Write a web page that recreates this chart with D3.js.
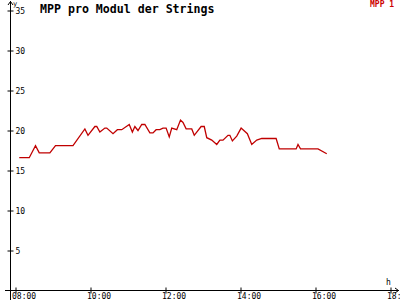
<!DOCTYPE html>
<html>
<head>
<meta charset="utf-8">
<script src="https://cdn.jsdelivr.net/npm/d3@7"></script>
<style>
  body { margin: 0; background: #fff; }
  svg { display: block; font-family: "DejaVu Sans Mono", monospace; }
</style>
</head>
<body>
<svg width="400" height="300"></svg>
<script>
const times = ['08:06','08:22','08:32','08:38','08:55','09:04','09:32','09:51','09:56','10:07',
  '10:10','10:15','10:23','10:26','10:36','10:43','10:50','11:02','11:07','11:11',
  '11:16','11:22','11:27','11:35','11:40','11:45','11:51','11:56','12:01','12:06',
  '12:10','12:18','12:24','12:28','12:33','12:42','12:46','12:57','13:02','13:06',
  '13:14','13:22','13:27','13:32','13:40','13:43','13:47','13:54','14:01','14:11',
  '14:18','14:26','14:34','14:57','15:02','15:29','15:32','15:36','16:04','16:18'];
const mpp1 = [16.6,16.6,18.1,17.2,17.2,18.1,18.1,20.2,19.4,20.5,
  20.5,19.8,20.3,20.3,19.6,20.1,20.1,20.75,19.8,20.5,
  20.0,20.75,20.75,19.7,19.7,20.1,20.1,20.3,20.3,19.2,
  20.3,20.1,21.3,21.0,20.2,20.2,19.4,20.5,20.5,19.1,
  18.8,18.25,18.8,18.8,19.4,19.4,18.7,19.3,20.3,19.6,
  18.25,18.8,19.0,19.0,17.7,17.7,18.25,17.7,17.7,17.1];
const xTicks = ['08:00','10:00','12:00','14:00','16:00','18:00'];
const yTicks = [5,10,15,20,25,30,35];

const svg = d3.select('svg');
const parse = d3.timeParse('%H:%M');
const fmt = d3.timeFormat('%H:%M');

const x = d3.scaleTime()
  .domain([parse('08:00'), parse('18:00')])
  .range([15.5, 390.5]);
const y = d3.scaleLinear()
  .domain([0, 35])
  .range([290.5, 10.5]);

const red = '#c00000';

// y axis
const yAxisG = svg.append('g')
  .attr('transform', 'translate(10.5,0)')
  .call(d3.axisRight(y).tickValues(yTicks).tickSize(3).tickPadding(2));
yAxisG.select('.domain').remove();
yAxisG.selectAll('.tick line').attr('x1', -3).attr('stroke', '#000');
yAxisG.selectAll('.tick text').attr('font-size', 8).attr('font-family', 'DejaVu Sans Mono').attr('fill', '#000');
svg.append('line').attr('x1', 10.5).attr('x2', 10.5).attr('y1', 1).attr('y2', 300).attr('stroke', '#000');
svg.append('path').attr('d', 'M8,5L10.5,1.5L13,5').attr('fill', 'none').attr('stroke', '#000');
svg.append('text').attr('x', 13).attr('y', 6).attr('font-size', 7).text('y');

// x axis
const xAxisG = svg.append('g')
  .attr('transform', 'translate(0,290.5)')
  .call(d3.axisBottom(x).tickValues(xTicks.map(parse)).tickFormat(fmt).tickSize(3).tickPadding(0));
xAxisG.select('.domain').remove();
xAxisG.selectAll('.tick line').attr('y1', -3).attr('stroke', '#000');
xAxisG.selectAll('.tick text')
  .attr('font-size', 8).attr('font-family', 'DejaVu Sans Mono').attr('fill', '#000')
  .attr('text-anchor', 'start').attr('dx', -4).attr('y', 3);
svg.append('line').attr('x1', 5).attr('x2', 399).attr('y1', 290.5).attr('y2', 290.5).attr('stroke', '#000');
svg.append('path').attr('d', 'M395,288L398.5,290.5L395,293').attr('fill', 'none').attr('stroke', '#000');
svg.append('text').attr('x', 386).attr('y', 285).attr('font-size', 8).text('h');

// title and legend
svg.append('text').attr('x', 40).attr('y', 13)
  .attr('font-size', 11.6).attr('font-weight', 'bold').text('MPP pro Modul der Strings');
svg.append('text').attr('x', 370).attr('y', 7)
  .attr('font-size', 8).attr('font-weight', 'bold').attr('fill', '#cc0000').text('MPP 1');

// line
const data = times.map((t, i) => ({ t: parse(t), v: mpp1[i] }));
svg.append('path')
  .datum(data)
  .attr('fill', 'none')
  .attr('stroke', red)
  .attr('stroke-width', 1.3)
  .attr('d', d3.line().x(d => x(d.t)).y(d => y(d.v)));
</script>
</body>
</html>
